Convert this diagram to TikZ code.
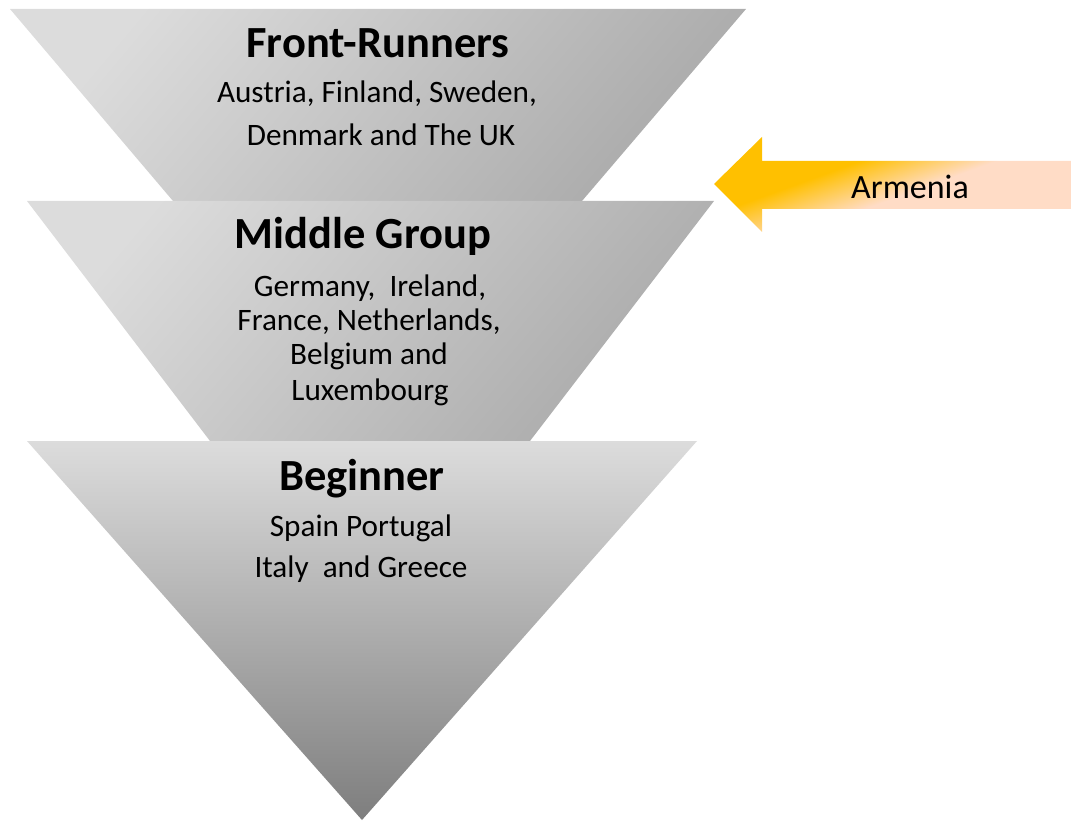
\documentclass[tikz,border=0pt]{standalone}
\usepackage{fontspec}
\setmainfont{Carlito}

\definecolor{tierlight}{HTML}{DCDCDC}
\definecolor{tierdark}{HTML}{ABABAB}
\definecolor{tipdark}{HTML}{7E7E7E}
\definecolor{armgold}{HTML}{FFC000}
\definecolor{armpeach}{HTML}{FFDCC6}

\pgfdeclarehorizontalshading{tierfade}{100bp}{color(0bp)=(tierlight); color(25bp)=(tierlight); color(75bp)=(tierdark); color(100bp)=(tierdark)}
\pgfdeclarehorizontalshading{armfade}{100bp}{color(0bp)=(armgold); color(48bp)=(armgold); color(52.5bp)=(armpeach); color(100bp)=(armpeach)}

\newcommand{\tiertitle}{\fontsize{44.5}{52}\selectfont\bfseries}
\newcommand{\tierbody}{\fontsize{31.2}{37}\selectfont}

\begin{document}
\begin{tikzpicture}[x=1pt,y=-1pt,
    tier/.style={shading=tierfade,shading angle=-40},
    line/.style={anchor=base,inner sep=0pt}]
          \useasboundingbox (0,0) rectangle (1071,821);

          % the three tiers
          \shade[tier] (10,9) -- (746,9) -- (582,201) -- (173,201) -- cycle;
          \shade[tier] (27,201) -- (714,201) -- (530,441) -- (210,441) -- cycle;
          \shade[top color=tierlight,bottom color=tipdark] (27,441) -- (697,441) -- (362,820) -- cycle;

          % arrow coming in from the right
          \begin{scope}
            \clip (714,184) -- (762,137) -- (762,161) -- (1071,161)
                -- (1071,209) -- (762,209) -- (762,232) -- cycle;
            \shade[shading=armfade,shading angle=-70] (553,-60) rectangle (1073,460);
          \end{scope}
          \node[line] (armenia) at (910,199) {\fontsize{34}{40}\selectfont Armenia};

          \node[line] (front) at (378,58) {\tiertitle Front-Runners};
          \node[line] (front1) at (377,103) {\tierbody Austria, Finland, Sweden,};
          \node[line] (front2) at (381,146) {\tierbody Denmark and The UK};

          \node[line] (middle) at (363,249) {\tiertitle Middle Group};
          \node[line] (middle1) at (370,296) {\tierbody Germany,\ \ Ireland,};
          \node[line] (middle2) at (369,330) {\tierbody France, Netherlands,};
          \node[line] (middle3) at (369,364) {\tierbody Belgium and};
          \node[line] (middle4) at (370,400) {\tierbody Luxembourg};

          \node[line] (begin) at (362,490) {\tiertitle Beginner};
          \node[line] (begin1) at (361,536) {\tierbody Spain Portugal};
          \node[line] (begin2) at (361,577) {\tierbody Italy\ \ and Greece};
        \end{tikzpicture}
\end{document}
